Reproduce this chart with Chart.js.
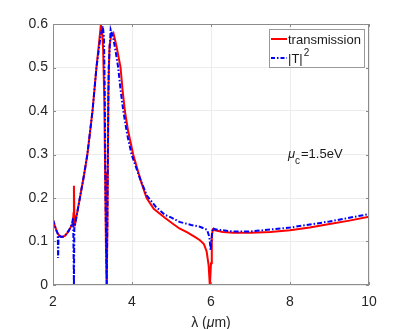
<!DOCTYPE html>
<html>
<head>
<meta charset="utf-8">
<script src="https://cdn.jsdelivr.net/npm/chart.js@4/dist/chart.umd.min.js"></script>
<style>
  html, body { margin: 0; padding: 0; background: #fff; }
  #wrap { width: 407px; height: 329px; }
</style>
</head>
<body>
<div id="wrap"><canvas id="myChart" width="407" height="329"></canvas></div>
<script>
  // wavelength (um) and transmission values
  const transX = [2.0, 2.05, 2.1, 2.15, 2.2, 2.25, 2.3, 2.35, 2.4, 2.45, 2.5, 2.52, 2.53, 2.54, 2.55, 2.56, 2.6, 2.68, 2.78, 2.87, 3.0, 3.1, 3.17, 3.21, 3.24, 3.27, 3.3, 3.32, 3.34, 3.36, 3.38, 3.4, 3.43, 3.47, 3.53, 3.61, 3.71, 3.76, 3.82, 3.9, 4.03, 4.15, 4.25, 4.37, 4.55, 4.84, 5.0, 5.2, 5.4, 5.6, 5.72, 5.82, 5.89, 5.94, 5.97, 6.0, 6.02, 6.05, 6.1, 6.3, 6.56, 7.0, 7.5, 8.0, 8.5, 9.0, 9.5, 10.0];
  const transY = [0.150, 0.135, 0.122, 0.115, 0.111, 0.111, 0.113, 0.118, 0.125, 0.133, 0.142, 0.165, 0.228, 0.160, 0.135, 0.140, 0.160, 0.200, 0.250, 0.300, 0.400, 0.500, 0.560, 0.597, 0.590, 0.540, 0.420, 0.260, 0.090, 0.000, 0.150, 0.440, 0.550, 0.572, 0.579, 0.548, 0.500, 0.449, 0.400, 0.355, 0.300, 0.262, 0.232, 0.200, 0.175, 0.154, 0.143, 0.130, 0.121, 0.110, 0.103, 0.094, 0.077, 0.045, 0.000, 0.050, 0.115, 0.128, 0.126, 0.122, 0.120, 0.120, 0.122, 0.126, 0.132, 0.140, 0.148, 0.157];

  // |T|^2
  const tsqX = [2.0, 2.05, 2.1, 2.12, 2.13, 2.14, 2.2, 2.25, 2.3, 2.4, 2.48, 2.51, 2.52, 2.53, 2.54, 2.56, 2.6, 2.68, 2.78, 2.87, 3.0, 3.1, 3.2, 3.26, 3.29, 3.31, 3.33, 3.36, 3.38, 3.41, 3.46, 3.52, 3.58, 3.65, 3.71, 3.78, 3.88, 3.99, 4.2, 4.38, 4.6, 4.84, 5.0, 5.2, 5.5, 5.72, 5.9, 5.96, 5.99, 6.01, 6.04, 6.1, 6.56, 7.0, 8.0, 9.0, 10.0];
  const tsqY = [0.150, 0.135, 0.122, 0.118, 0.062, 0.115, 0.111, 0.111, 0.113, 0.125, 0.140, 0.155, 0.080, 0.000, 0.130, 0.140, 0.160, 0.200, 0.250, 0.300, 0.400, 0.500, 0.570, 0.595, 0.570, 0.450, 0.200, 0.000, 0.200, 0.500, 0.587, 0.570, 0.540, 0.500, 0.449, 0.400, 0.345, 0.300, 0.245, 0.205, 0.180, 0.161, 0.155, 0.145, 0.138, 0.134, 0.127, 0.110, 0.080, 0.100, 0.131, 0.128, 0.123, 0.123, 0.132, 0.146, 0.163];

  const xTicks = [2, 4, 6, 8, 10];
  const yTicks = [0, 0.1, 0.2, 0.3, 0.4, 0.5, 0.6];

  const FONT = "'Liberation Sans', Arial, sans-serif";
  const toPoints = (xs, ys) => xs.map((x, i) => ({ x: x, y: ys[i] }));

  // box, inward ticks, axis title, legend and the mu_c note, drawn like the original figure
  const frame = {
    id: 'frame',
    afterDraw(chart) {
      const { ctx, chartArea: a, scales: { x, y } } = chart;
      ctx.save();
      ctx.strokeStyle = '#8c8c8c';
      ctx.lineWidth = 1;
      ctx.strokeRect(a.left + 0.5, a.top + 0.5, a.right - a.left - 1, a.bottom - a.top - 1);
      ctx.beginPath();
      xTicks.forEach(t => {
        const px = Math.round(x.getPixelForValue(t)) + 0.5;
        ctx.moveTo(px, a.bottom); ctx.lineTo(px, a.bottom - 3);
        ctx.moveTo(px, a.top); ctx.lineTo(px, a.top + 3);
      });
      yTicks.forEach(t => {
        const py = Math.round(y.getPixelForValue(t)) + 0.5;
        ctx.moveTo(a.left, py); ctx.lineTo(a.left + 3, py);
        ctx.moveTo(a.right, py); ctx.lineTo(a.right - 3, py);
      });
      ctx.stroke();

      ctx.fillStyle = '#262626';
      ctx.textBaseline = 'alphabetic';
      ctx.textAlign = 'left';

      // x axis title: "λ (μm)" with italic mu
      const parts = [['14px ', '\u03bb ('], ['italic 14px ', '\u03bc'], ['14px ', 'm)']];
      let tw = 0;
      parts.forEach(p => { ctx.font = p[0] + FONT; tw += ctx.measureText(p[1]).width; });
      let tx = (a.left + a.right) / 2 - tw / 2;
      parts.forEach(p => {
        ctx.font = p[0] + FONT;
        ctx.fillText(p[1], tx, 327);
        tx += ctx.measureText(p[1]).width;
      });

      // legend
      const lx = 269, ly = 29, lw = 95, lh = 38;
      ctx.fillStyle = '#fff';
      ctx.fillRect(lx, ly, lw, lh);
      ctx.strokeStyle = '#999';
      ctx.strokeRect(lx + 0.5, ly + 0.5, lw, lh);
      ctx.lineWidth = 2;
      ctx.strokeStyle = '#ff0000';
      ctx.beginPath(); ctx.moveTo(271, 39); ctx.lineTo(287, 39); ctx.stroke();
      ctx.strokeStyle = '#0000ff';
      ctx.setLineDash([4, 2, 1.5, 2]);
      ctx.beginPath(); ctx.moveTo(271, 58); ctx.lineTo(287, 58); ctx.stroke();
      ctx.setLineDash([]);
      ctx.fillStyle = '#1a1a1a';
      ctx.font = '13px ' + FONT;
      ctx.fillText('transmission', 288, 44);
      ctx.fillText('|T|', 288, 63);
      const w = ctx.measureText('|T|').width;
      ctx.font = '10px ' + FONT;
      ctx.fillText('2', 288 + w + 1, 56);

      // mu_c note
      ctx.font = 'italic 13px ' + FONT;
      ctx.fillText('\u03bc', 288, 158);
      ctx.font = '10px ' + FONT;
      ctx.fillText('c', 295, 164);
      ctx.font = '13px ' + FONT;
      ctx.fillText('=1.5eV', 301, 158);
      ctx.restore();
    }
  };

  const ctx = document.getElementById('myChart').getContext('2d');
  const chart = new Chart(ctx, {
    type: 'line',
    data: {
      datasets: [
        {
          label: 'transmission',
          data: toPoints(transX, transY),
          borderColor: '#ff0000',
          borderWidth: 2,
          pointRadius: 0,
          tension: 0,
          order: 2
        },
        {
          label: '|T|^2',
          data: toPoints(tsqX, tsqY),
          borderColor: '#0000ff',
          borderWidth: 2,
          borderDash: [5, 2, 1.5, 2],
          pointRadius: 0,
          tension: 0,
          order: 1
        }
      ]
    },
    options: {
      responsive: false,
      animation: false,
      layout: { padding: { top: 24, right: 38, left: 0, bottom: 0 } },
      plugins: { legend: { display: false }, tooltip: { enabled: false } },
      scales: {
        x: {
          type: 'linear',
          min: 2, max: 10,
          afterBuildTicks: s => { s.ticks = xTicks.map(v => ({ value: v })); },
          afterFit: s => { s.height = 44; },
          grid: { color: '#ececec', drawTicks: false },
          border: { display: false },
          ticks: { color: '#262626', font: { family: FONT, size: 14 }, padding: 9, maxRotation: 0 }
        },
        y: {
          min: 0, max: 0.6,
          afterBuildTicks: s => { s.ticks = yTicks.map(v => ({ value: v })); },
          afterFit: s => { s.width = 53; },
          grid: { color: '#ececec', drawTicks: false },
          border: { display: false },
          ticks: { color: '#262626', font: { family: FONT, size: 14 }, padding: 5 }
        }
      }
    },
    plugins: [frame]
  });
</script>
</body>
</html>
